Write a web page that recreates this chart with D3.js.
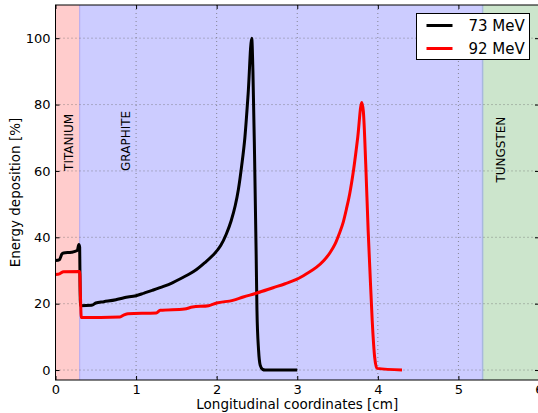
<!DOCTYPE html>
<meta charset="utf-8">
<script src="https://d3js.org/d3.v7.min.js"></script>
<style>
  body { margin: 0; background: #fff; overflow: hidden; }
  text { font-family: "DejaVu Sans", sans-serif; }
</style>
<div id="chart"></div>
<script>

// 73 MeV curve
var x73 = [0, 0.05, 0.08, 0.1, 0.2, 0.27, 0.29, 0.3, 0.305, 0.31, 0.45, 0.5, 0.6, 0.75, 0.85, 1.0, 1.1, 1.2, 1.34, 1.45, 1.55, 1.65, 1.75, 1.85, 1.95, 2.05, 2.12, 2.18, 2.23, 2.27, 2.31, 2.35, 2.39, 2.435, 2.45, 2.47, 2.49, 2.5, 2.52, 2.54, 2.57, 2.6, 3.0];
var y73 = [33, 33.3, 35, 35.3, 35.5, 36, 37.8, 37, 25, 19.4, 19.5, 20.2, 20.6, 21.2, 21.8, 22.4, 23.2, 24, 25.2, 26.3, 27.5, 28.8, 30.3, 32.3, 34.5, 37.5, 41, 45, 49.5, 54.5, 61.5, 70, 83, 100, 90, 65, 35, 18, 6, 1.5, 0.2, 0, 0];

// 92 MeV curve
var x92 = [0, 0.05, 0.1, 0.3, 0.31, 0.32, 0.8, 0.85, 0.9, 1.25, 1.3, 1.6, 1.7, 1.9, 2.0, 2.2, 2.33, 2.5, 2.7, 2.85, 2.99, 3.12, 3.24, 3.33, 3.41, 3.47, 3.52, 3.57, 3.61, 3.65, 3.7, 3.75, 3.8, 3.82, 3.85, 3.88, 3.9, 3.93, 3.96, 3.99, 4.3];
var y92 = [28.8, 29, 29.6, 29.7, 22, 15.8, 16, 16.6, 17, 17.2, 18, 18.4, 19, 19.4, 20.2, 21, 22, 23.2, 24.8, 26, 27.3, 29.1, 31, 33, 35.5, 38, 41, 44.5, 48.5, 53, 60.5, 70, 80.6, 78, 62, 42, 31, 15, 4, 0.5, 0];

var series = [
  {name: "73 MeV", color: "#000000", xs: x73, ys: y73},
  {name: "92 MeV", color: "#ff0000", xs: x92, ys: y92}
];

// material regions
var regionNames = ["TITANIUM", "GRAPHITE", "TUNGSTEN"];
var regionStart = [0, 0.3, 5.3];
var regionEnd = [0.3, 5.3, 6];
var regionColor = ["#ffcccc", "#ccccff", "#cce5cc"];
var labelX = [0.16, 0.87, 5.52];
var labelY = [60, 60, 56.5];

var xTicks = [0, 1, 2, 3, 4, 5, 6];
var yTicks = [0, 20, 40, 60, 80, 100];

var width = 538, height = 413;
var margin = {top: 5, right: -1, bottom: 33, left: 55.5};
var w = width - margin.left - margin.right,
    h = height - margin.top - margin.bottom;

var svg = d3.select("#chart").append("svg")
    .attr("width", width)
    .attr("height", height);

var g = svg.append("g")
    .attr("transform", "translate(" + margin.left + "," + margin.top + ")");

var x = d3.scaleLinear().domain([0, 6]).range([0, w]);
var y = d3.scaleLinear().domain([-3, 110]).range([h, 0]);

// background regions
g.selectAll("rect.region")
  .data(regionNames)
  .enter()
  .append("rect")
    .attr("class", "region")
    .attr("x", function(d, i) { return x(regionStart[i]); })
    .attr("y", 0)
    .attr("width", function(d, i) { return x(regionEnd[i]) - x(regionStart[i]); })
    .attr("height", h)
    .attr("fill", function(d, i) { return regionColor[i]; });

// region edges
g.append("line")
  .attr("x1", x(0.3)).attr("x2", x(0.3)).attr("y1", 0).attr("y2", h)
  .attr("stroke", "#b4a8ee").attr("stroke-width", 1);
g.append("line")
  .attr("x1", x(5.3)).attr("x2", x(5.3)).attr("y1", 0).attr("y2", h)
  .attr("stroke", "#a8b8de").attr("stroke-width", 1.5);

// grid
g.selectAll("line.gx")
  .data(xTicks.slice(1, 6))
  .enter()
  .append("line")
    .attr("x1", function(d) { return x(d); })
    .attr("x2", function(d) { return x(d); })
    .attr("y1", 0).attr("y2", h)
    .attr("stroke", "#666").attr("stroke-opacity", 0.7)
    .attr("stroke-dasharray", "1,3");
g.selectAll("line.gy")
  .data(yTicks)
  .enter()
  .append("line")
    .attr("x1", 0).attr("x2", w)
    .attr("y1", function(d) { return y(d); })
    .attr("y2", function(d) { return y(d); })
    .attr("stroke", "#666").attr("stroke-opacity", 0.7)
    .attr("stroke-dasharray", "1,3");

// region labels
g.selectAll("text.region")
  .data(regionNames)
  .enter()
  .append("text")
    .attr("transform", function(d, i) {
      return "translate(" + x(labelX[i]) + "," + y(labelY[i]) + ") rotate(-90)";
    })
    .attr("dy", "0.35em")
    .style("font-size", "12px")
    .attr("fill", "#000")
    .text(function(d) { return d; });

// curves
var line = d3.line()
  .x(function(d) { return x(d[0]); })
  .y(function(d) { return y(d[1]); })
  .curve(d3.curveMonotoneX);

series.forEach(function(s) {
  g.append("path")
    .datum(d3.zip(s.xs, s.ys))
    .attr("fill", "none")
    .attr("stroke", s.color)
    .attr("stroke-width", 3)
    .attr("stroke-linejoin", "round")
    .attr("d", line);
});

// frame
g.append("rect")
  .attr("x", 0).attr("y", 0).attr("width", w).attr("height", h)
  .attr("fill", "none").attr("stroke", "#000").attr("stroke-width", 1);

// axes with inward ticks
var xAxis = g.append("g")
  .attr("transform", "translate(0," + h + ")")
  .call(d3.axisBottom(x).tickValues(xTicks).tickSizeInner(-4).tickSizeOuter(0).tickPadding(5).tickFormat(d3.format("d")));
var yAxis = g.append("g")
  .call(d3.axisLeft(y).tickValues(yTicks).tickSizeInner(-4).tickSizeOuter(0).tickPadding(5).tickFormat(d3.format("d")));
[xAxis, yAxis].forEach(function(a) {
  a.select(".domain").remove();
  a.selectAll("text").style("font-size", "13px").style("font-family", "DejaVu Sans").attr("fill", "#000");
  a.selectAll("line").attr("stroke", "#000");
});
g.append("g")
  .attr("transform", "translate(" + w + ",0)")
  .call(d3.axisRight(y).tickValues(yTicks).tickSizeInner(-4).tickSizeOuter(0).tickFormat(""))
  .select(".domain").remove();
g.append("g")
  .call(d3.axisTop(x).tickValues(xTicks).tickSizeInner(-4).tickSizeOuter(0).tickFormat(""))
  .select(".domain").remove();

// axis titles
svg.append("text")
  .attr("x", margin.left + w / 2)
  .attr("y", 408.5)
  .attr("text-anchor", "middle")
  .style("font-size", "13.5px")
  .text("Longitudinal coordinates [cm]");
svg.append("text")
  .attr("transform", "translate(20," + (margin.top + h / 2) + ") rotate(-90)")
  .attr("text-anchor", "middle")
  .style("font-size", "13.5px")
  .text("Energy deposition [%]");

// legend
var legend = svg.append("g").attr("transform", "translate(416.5,13.5)");
legend.append("rect")
  .attr("width", 113).attr("height", 46)
  .attr("fill", "#fff").attr("stroke", "#000").attr("stroke-width", 1);
series.forEach(function(s, i) {
  legend.append("line")
    .attr("x1", 10).attr("x2", 36)
    .attr("y1", 12 + i * 23).attr("y2", 12 + i * 23)
    .attr("stroke", s.color).attr("stroke-width", 3);
  legend.append("text")
    .attr("x", 52).attr("y", 12 + i * 23)
    .attr("dy", "0.36em")
    .style("font-size", "15px")
    .text(s.name);
});

</script>
